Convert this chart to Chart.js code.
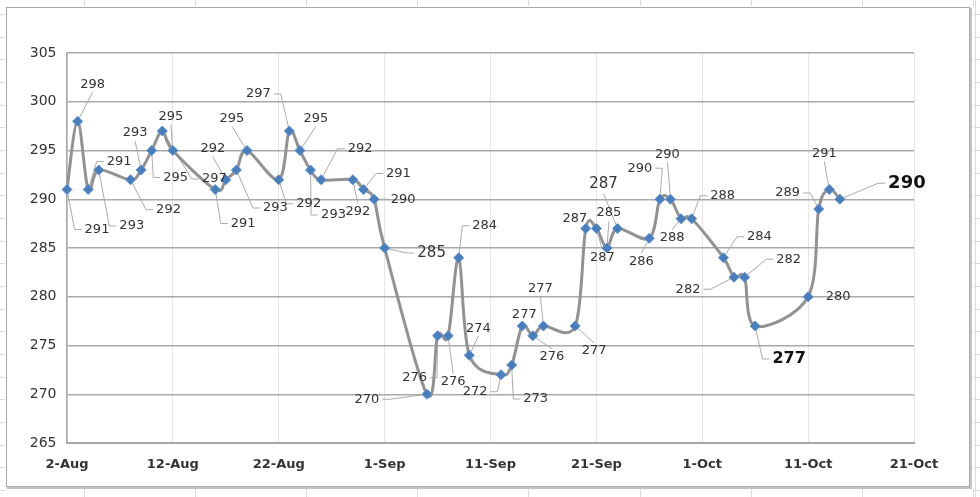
<!DOCTYPE html>
<html>
<head>
<meta charset="utf-8">
<script src="https://cdn.jsdelivr.net/npm/chart.js@4/dist/chart.umd.min.js"></script>
<style>
  html, body { margin: 0; padding: 0; background: #ffffff; }
  #wrap { width: 980px; height: 497px; position: relative; }
  canvas { display: block; }
</style>
</head>
<body>
<div id="wrap"><canvas id="c" width="980" height="497"></canvas></div>
<script>
// ---- Data ----
const dates = ["2-Aug","3-Aug","4-Aug","5-Aug","8-Aug","9-Aug","10-Aug","11-Aug","12-Aug",
  "16-Aug","17-Aug","18-Aug","19-Aug","22-Aug","23-Aug","24-Aug","25-Aug","26-Aug",
  "29-Aug","30-Aug","31-Aug","1-Sep","5-Sep","6-Sep","7-Sep","8-Sep","9-Sep",
  "12-Sep","13-Sep","14-Sep","15-Sep","16-Sep","19-Sep","20-Sep","21-Sep","22-Sep","23-Sep",
  "26-Sep","27-Sep","28-Sep","29-Sep","30-Sep","3-Oct","4-Oct","5-Oct","6-Oct",
  "11-Oct","12-Oct","13-Oct","14-Oct"];
const prices = [291,298,291,293,292,293,295,297,295,
  291,292,293,295,292,297,295,293,292,
  292,291,290,285,270,276,276,284,274,
  272,273,277,276,277,277,287,287,285,287,
  286,290,290,288,288,284,282,282,277,
  280,289,291,290];
const xTickLabels = ["2-Aug","12-Aug","22-Aug","1-Sep","11-Sep","21-Sep","1-Oct","11-Oct","21-Oct"];
const yMin = 265, yMax = 305, yStep = 5;

// ---- Label layout (pixel offsets of each data label from its marker) ----
const labelOffsets = [[30,40],[15,-37],[31,-28],[33,56],[38,30],[-6,-37],[24,27],[52,48],[-2,-34],
  [28,34],[-13,-31],[39,38],[-15,-32],[30,24],[-31,-37],[16,-32],[23,45],[39,-31],
  [5,32],[35,-16],[29,0],[47,5],[-60,5],[-23,42],[5,46],[26,-32],[9,-27],
  [-26,17],[24,34],[2,-11],[19,21],[-3,-37],[19,25],[-11,-10],[6,29],[2,-35],[-14,-44],
  [-8,23],[-20,-31],[-3,-45],[-9,19],[31,-23],[36,-21],[-46,12],[44,-18],[34,33],
  [30,0],[-31,-16],[-5,-36],[67,-16]];
const labelFontOverride = {21:"15px", 36:"15px", 45:"bold 16px", 49:"bold 18px"};

const monthStart = {Aug: 0, Sep: 31, Oct: 61};
function dayIndex(s) {
  const [d, m] = s.split("-");
  return monthStart[m] + parseInt(d, 10) - 2;
}
const points = dates.map((d, i) => ({x: dayIndex(d), y: prices[i]}));

const FONT = "'DejaVu Sans', Verdana, sans-serif";

const framePlugin = {
  id: 'frame',
  beforeDraw(chart) {
    const ctx = chart.ctx;
    ctx.save();
    ctx.fillStyle = '#ffffff';
    ctx.fillRect(0, 0, chart.width, chart.height);
    ctx.strokeStyle = '#dcdcdc';
    ctx.lineWidth = 1;
    for (let k = 0; k < 9; k++) {
      const x = Math.round(84 + 111.1 * k) + 0.5;
      ctx.beginPath(); ctx.moveTo(x, 0); ctx.lineTo(x, 6); ctx.stroke();
      ctx.beginPath(); ctx.moveTo(x, 489); ctx.lineTo(x, 497); ctx.stroke();
    }
    for (let k = 0; k < 23; k++) {
      const y = Math.round(490 - 22.67 * k) + 0.5;
      ctx.beginPath(); ctx.moveTo(0, y); ctx.lineTo(5, y); ctx.stroke();
      ctx.beginPath(); ctx.moveTo(973, y); ctx.lineTo(980, y); ctx.stroke();
    }
    ctx.beginPath(); ctx.moveTo(975.5, 0); ctx.lineTo(975.5, 497); ctx.stroke();
    ctx.strokeStyle = '#a8a8a8';
    ctx.lineWidth = 1;
    ctx.strokeRect(6.5, 7.5, 963, 479);
    ctx.strokeStyle = '#c4c4c4';
    ctx.lineWidth = 2;
    ctx.beginPath(); ctx.moveTo(971, 8); ctx.lineTo(971, 488); ctx.lineTo(7, 488); ctx.stroke();
    ctx.restore();
  }
};

// Excel-style smoothing: Bezier control points at +/- (next - prev) / 6
const smoothPlugin = {
  id: 'excelSmooth',
  beforeDatasetDraw(chart, args) {
    const line = args.meta.dataset;
    const pts = args.meta.data;
    if (line.updateControlPoints) line.updateControlPoints(chart.chartArea);
    const n = pts.length;
    for (let i = 0; i < n; i++) {
      const p = pts[i];
      const prev = pts[Math.max(0, i - 1)];
      const next = pts[Math.min(n - 1, i + 1)];
      const tx = (next.x - prev.x) / 6, ty = (next.y - prev.y) / 6;
      p.cp1x = p.x - tx; p.cp1y = p.y - ty;
      p.cp2x = p.x + tx; p.cp2y = p.y + ty;
    }
    line._pointsUpdated = true;
  }
};

function labelFont(i) {
  const o = labelFontOverride[i];
  return (o ? o : "13px") + " " + FONT;
}

const labelPlugin = {
  id: 'dlabels',
  beforeDatasetsDraw(chart) {
    const ctx = chart.ctx;
    const meta = chart.getDatasetMeta(0);
    ctx.save();
    ctx.strokeStyle = '#ababab';
    ctx.lineWidth = 1;
    meta.data.forEach((el, i) => {
      const [dx, dy] = labelOffsets[i];
      const cx = el.x + dx, cy = el.y + dy;
      ctx.font = labelFont(i);
      const w = ctx.measureText(String(prices[i])).width / 2 + 3;
      const h = (labelFontOverride[i] ? 9 : 8);
      if (Math.abs(dx) <= w + 1 && Math.abs(dy) <= h + 6) return;
      ctx.beginPath();
      if (Math.abs(dx) > w + 4) {
        // label beside the point: horizontal stub from the label side, then to the point
        const sgn = dx > 0 ? -1 : 1;
        const sx = cx + sgn * w;
        const ex = sx + sgn * 7;
        ctx.moveTo(sx, cy);
        ctx.lineTo(ex, cy);
        ctx.lineTo(el.x, el.y);
      } else {
        const sy = cy + (dy > 0 ? -h : h);
        ctx.moveTo(cx, sy);
        ctx.lineTo(el.x, el.y);
      }
      ctx.stroke();
    });
    ctx.restore();
  },
  afterDatasetsDraw(chart) {
    const ctx = chart.ctx;
    const meta = chart.getDatasetMeta(0);
    ctx.save();
    ctx.textAlign = 'center';
    ctx.textBaseline = 'middle';
    meta.data.forEach((el, i) => {
      const [dx, dy] = labelOffsets[i];
      ctx.font = labelFont(i);
      ctx.fillStyle = labelFontOverride[i] && labelFontOverride[i].startsWith('bold') ? '#111111' : '#333333';
      ctx.fillText(String(prices[i]), el.x + dx, el.y + dy);
    });
    ctx.restore();
  }
};

new Chart(document.getElementById('c'), {
  type: 'line',
  data: {
    datasets: [{
      data: points,
      borderColor: '#929292',
      borderWidth: 3,
      tension: 0.3,
      pointStyle: 'rectRot',
      pointRadius: 5,
      pointBackgroundColor: '#4a7ebb',
      pointBorderColor: '#5f8fcb',
      pointBorderWidth: 1,
      clip: false,
      fill: false
    }]
  },
  options: {
    responsive: false,
    animation: false,
    devicePixelRatio: 1,
    layout: { padding: { left: 0, right: 66, top: 53, bottom: 0 } },
    plugins: { legend: { display: false }, tooltip: { enabled: false } },
    scales: {
      x: {
        type: 'linear',
        min: 0, max: 80,
        afterFit(scale) { scale.height = 54; },
        afterBuildTicks(scale) {
          scale.ticks = xTickLabels.map((_, i) => ({ value: i * 10 }));
        },
        ticks: {
          autoSkip: false,
          maxRotation: 0,
          padding: 14,
          color: '#333333',
          font: { family: FONT, size: 13, weight: 'bold' },
          callback: (v) => xTickLabels[Math.round(v / 10)]
        },
        grid: { color: '#e6e6e6', lineWidth: 1, drawTicks: false },
        border: { display: true, color: '#a6a6a6', width: 2 }
      },
      y: {
        min: yMin, max: yMax,
        afterFit(scale) { scale.width = 67; },
        ticks: {
          stepSize: yStep,
          padding: 10.5,
          color: '#333333',
          font: { family: FONT, size: 14 }
        },
        grid: { color: '#a9a9a9', lineWidth: 1.5, drawTicks: false },
        border: { display: true, color: '#a6a6a6', width: 1.5 }
      }
    }
  },
  plugins: [framePlugin, smoothPlugin, labelPlugin]
});
</script>
</body>
</html>
